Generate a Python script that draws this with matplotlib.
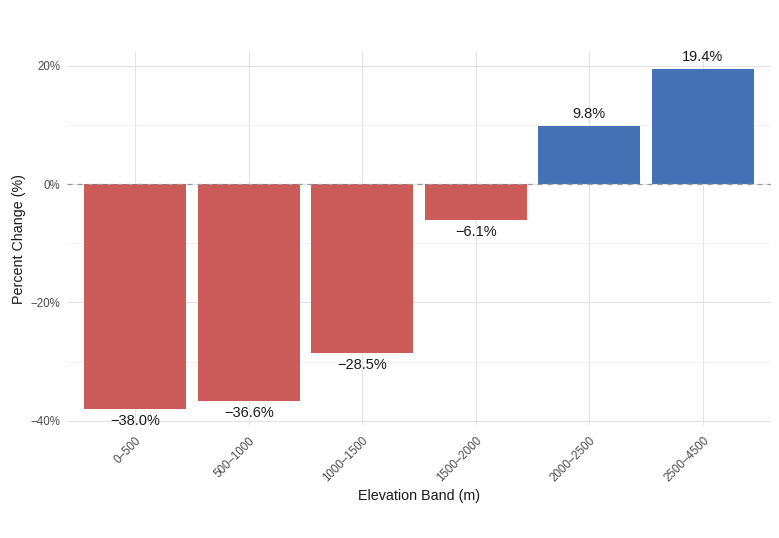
import matplotlib
matplotlib.use("Agg")
import matplotlib.pyplot as plt
import numpy as np
from matplotlib.ticker import FixedLocator

plt.rcParams['font.family'] = ['Liberation Sans', 'DejaVu Sans']

bands = ["0–500", "500–1000", "1000–1500", "1500–2000", "2000–2500", "2500–4500"]
pct_change = [-38.0, -36.6, -28.5, -6.1, 9.8, 19.4]
neg_color = "#CC5C5A"
pos_color = "#4472B4"

fig = plt.figure(figsize=(7.79, 5.38), dpi=100)
ax = fig.add_axes([67/779, (538-425)/538, (771-67)/779, (425-52)/538])

x = np.arange(1, len(bands) + 1)
colors = [pos_color if v > 0 else neg_color for v in pct_change]
ax.bar(x, pct_change, width=0.9, color=colors, zorder=2)

ax.axhline(0, color="#9a9a9a", linestyle=(0, (4, 4)), linewidth=0.9, zorder=3)

for xi, v in zip(x, pct_change):
    txt = f"{v:.1f}%".replace("-", "−")
    if v >= 0:
        ax.text(xi, v + 0.9, txt, ha="center", va="bottom", fontsize=10.5, color="#1a1a1a", zorder=4)
    else:
        ax.text(xi, v - 0.9, txt, ha="center", va="top", fontsize=10.5, color="#1a1a1a", zorder=4)

ax.set_xlim(0.4, 6.6)
ax.set_ylim(-40.7, 22.3)
ax.set_xticks(x)
ax.set_xticklabels(bands, rotation=45, ha="right", va="top", rotation_mode="anchor",
                   fontsize=8.3, color="#4D4D4D")
yt = [-40, -20, 0, 20]
ax.yaxis.set_major_locator(FixedLocator(yt))
ax.set_yticklabels([f"{t}%".replace("-", "−") for t in yt], fontsize=8.3, color="#4D4D4D")
ax.yaxis.set_minor_locator(FixedLocator([-30, -10, 10]))

ax.grid(True, which="major", color="#E3E3E3", linewidth=0.8, zorder=0)
ax.grid(True, which="minor", axis="y", color="#F0F0F0", linewidth=0.6, zorder=0)
ax.set_axisbelow(True)
for s in ax.spines.values():
    s.set_visible(False)
ax.tick_params(axis="both", which="both", length=0)
ax.tick_params(axis="x", pad=7)
ax.tick_params(axis="y", pad=5)

ax.set_xlabel("Elevation Band (m)", fontsize=10.3, color="#1a1a1a", labelpad=3)
ax.set_ylabel("Percent Change (%)", fontsize=10.3, color="#1a1a1a", labelpad=3)

fig.savefig("out.png", dpi=100, facecolor="white")
